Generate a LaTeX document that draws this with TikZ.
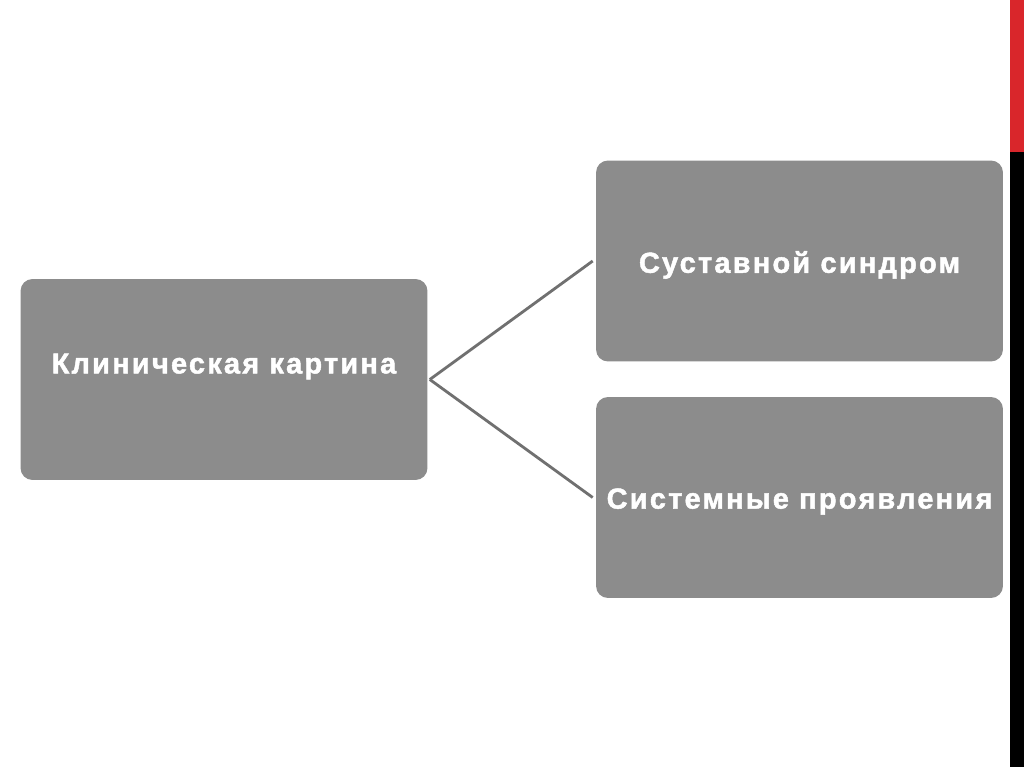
\documentclass[tikz,border=0pt]{standalone}
\usepackage{fontspec}
\setmainfont{Liberation Sans}[LetterSpace=7.6, BoldFeatures={FakeBold=1.6}]
\usetikzlibrary{positioning, calc}
\definecolor{kbox}{HTML}{8C8C8C}
\definecolor{kline}{HTML}{707070}
\definecolor{kred}{HTML}{D9262B}

\begin{document}
\begin{tikzpicture}[
  x=0.02cm, y=-0.02cm,
  box/.style={fill=kbox, rounded corners=0.24cm, inner sep=0pt,
    minimum width=8.14cm, minimum height=4.02cm},
  txt/.style={text=white, font=\fontsize{16.5pt}{19pt}\selectfont\bfseries, inner sep=0pt},
  conn/.style={draw=kline, line width=1.6pt},
]
\fill[white] (0,0) rectangle (1024,767);

% side bar
\fill[kred] (1010,0) rectangle (1024,152);
\fill[black] (1010,152) rectangle (1024,767);

% boxes
\node[box] (clin) at (224,379.5) {};
\node[box] (joint) at (799.5,261) {};
\node[box] (syst) at (799.5,497.5) {};

\node[txt] (clintxt) at ($(clin.center)+(0,-13)$) {Клиническая картина};
\node[txt] (jointtxt) at ($(joint.center)+(0,4)$) {Суставной синдром};
\node[txt] (systtxt) at ($(syst.center)+(0,4)$) {Системные проявления};

% connectors
\draw[conn] ([xshift=0.04cm]clin.east) -- ([xshift=-0.06cm]joint.west);
\draw[conn] ([xshift=0.04cm]clin.east) -- ([xshift=-0.06cm]syst.west);
\end{tikzpicture}
\end{document}
